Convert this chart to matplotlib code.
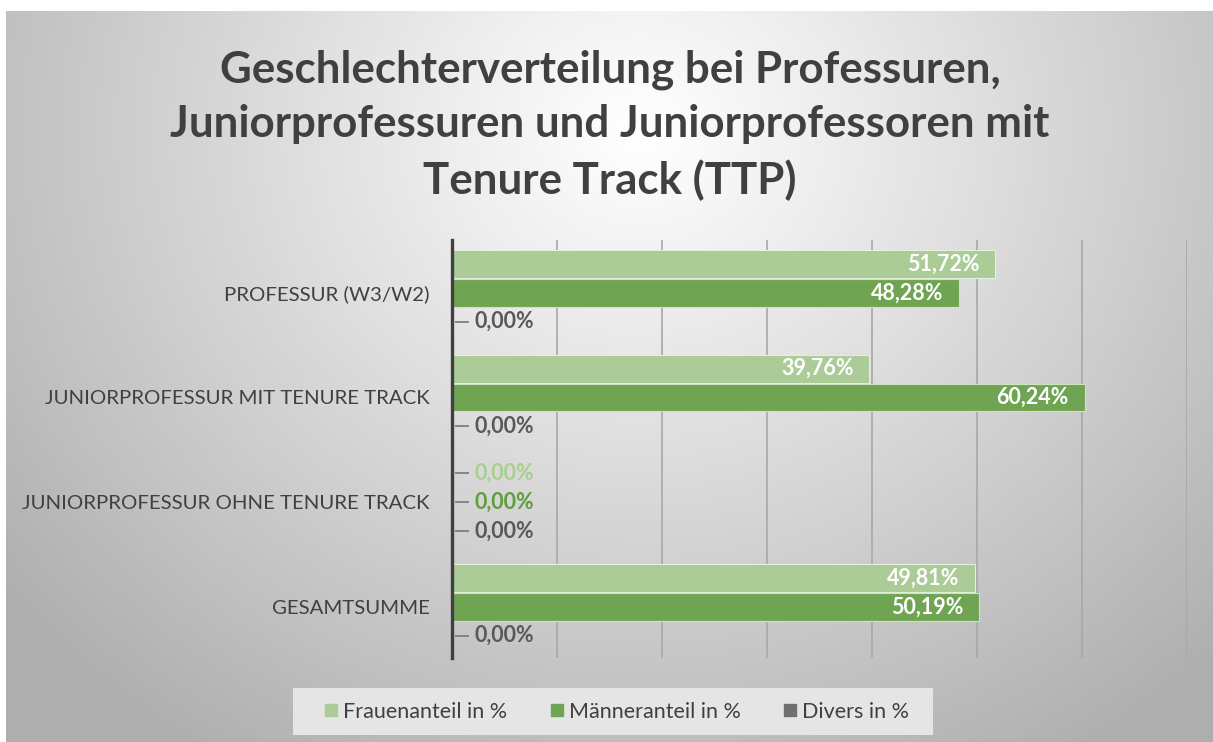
import numpy as np
import matplotlib
matplotlib.use("Agg")
import matplotlib.pyplot as plt
from matplotlib.patches import Rectangle
from matplotlib.lines import Line2D

# ---------------- data ----------------
categories = ["PROFESSUR (W3/W2)", "JUNIORPROFESSUR MIT TENURE TRACK",
              "JUNIORPROFESSUR OHNE TENURE TRACK", "GESAMTSUMME"]
frauen = [51.72, 39.76, 0.00, 49.81]
maenner = [48.28, 60.24, 0.00, 50.19]
divers = [0.00, 0.00, 0.00, 0.00]
series_names = ["Frauenanteil in %", "Männeranteil in %", "Divers in %"]
title = ("Geschlechterverteilung bei Professuren,\n"
         "Juniorprofessuren und Juniorprofessoren mit\n"
         "Tenure Track (TTP)")

# ---------------- style ----------------
W, H = 1213, 742
FONT = "Lato"
c_fr = "#abcb97"
c_ma = "#6fa452"
c_di = "#707070"
zero_colors = ["#a9cf8f", "#5f9e3d", "#595959"]
txt = "#404040"

plt.rcParams["font.family"] = [FONT, "DejaVu Sans"]

fig = plt.figure(figsize=(W / 100, H / 100), dpi=100, facecolor="white")

def fx(x):
    return x / W

def fy(y):
    return 1 - y / H

# background gradient panel
bg = fig.add_axes([fx(6), 0, 1 - fx(6), fy(11)])
bg.set_axis_off()
ny, nx = 400, 700
yy, xx = np.mgrid[0:ny, 0:nx]
px = 6 + xx / (nx - 1) * (W - 6)
py = 11 + yy / (ny - 1) * (H - 11)
d = np.sqrt(((px - 640) / 680) ** 2 + ((py - 130) / 620) ** 2)
val = 1.0 - 0.26 * np.clip(d, 0, 1.2) ** 1.05
img = np.dstack([val, val, val])
bg.imshow(img, aspect="auto", extent=[0, 1, 0, 1], origin="upper", zorder=0)
bg.set_xlim(0, 1)
bg.set_ylim(0, 1)

# main axes
left, right, top, bottom = 452, 1187, 240, 658
ax = fig.add_axes([fx(left), fy(bottom), fx(right - left), (bottom - top) / H])
ax.set_facecolor("none")

n = len(categories)
ypos = np.arange(n)
off = 0.275
bh = 0.265

ax.barh(ypos - off, frauen, height=bh, color=c_fr, edgecolor="#e4efdc", linewidth=0.8, zorder=3)
ax.barh(ypos, maenner, height=bh, color=c_ma, edgecolor="#cfe3c2", linewidth=0.8, zorder=3)
ax.barh(ypos + off, divers, height=bh, color=c_di, linewidth=0, zorder=3)

ax.set_xlim(0, 70)
ax.set_ylim(n - 1 + 0.49, -0.505)
ax.set_xticks(np.arange(0, 71, 10))
ax.xaxis.grid(True, color="#a8a8a8", linewidth=1.2, zorder=0)
ax.tick_params(axis="x", length=0, labelbottom=False)
ax.set_yticks(ypos)
ax.set_yticklabels(categories, fontsize=14.7, color=txt)
ax.tick_params(axis="y", length=0, pad=16)
for s in ["top", "right", "bottom"]:
    ax.spines[s].set_visible(False)
ax.spines["left"].set_color("#404040")
ax.spines["left"].set_linewidth(2.4)
ax.spines["left"].set_zorder(5)

def fmt(v):
    return f"{v:.2f}%".replace(".", ",")

for si, vals in enumerate([frauen, maenner, divers]):
    for i, v in enumerate(vals):
        y = ypos[i] + (si - 1) * off
        if v > 0:
            ax.text(v - 1.5, y, fmt(v), ha="right", va="center", color="white",
                    fontsize=15.5, fontweight="bold", zorder=6)
        else:
            ax.plot([0.25, 1.6], [y, y], color="#7f7f7f", linewidth=1.3, zorder=6,
                    solid_capstyle="butt")
            ax.text(2.1, y, fmt(v), ha="left", va="center", color=zero_colors[si],
                    fontsize=15.5, fontweight="bold", zorder=6)

# title
fig.text(fx(610), fy(125), title, ha="center", va="center", fontsize=31.6,
         fontweight="bold", color=txt, linespacing=1.43)

# legend box
lx0, lx1, ly0, ly1 = 293, 933, 688, 735
fig.patches.append(Rectangle((fx(lx0), fy(ly1)), fx(lx1 - lx0), (ly1 - ly0) / H,
                             transform=fig.transFigure, facecolor="#e5e5e5",
                             edgecolor="none", zorder=1))
handles = [Line2D([], [], marker="s", linestyle="none", markersize=8,
                  markerfacecolor=c, markeredgecolor=c) for c in [c_fr, c_ma, c_di]]
leg = fig.legend(handles, series_names, loc="center", bbox_to_anchor=(fx(617), fy(711.5)),
                 ncol=3, frameon=False, fontsize=15.5, handlelength=0.6,
                 handletextpad=0.25, columnspacing=2.0, labelcolor=txt)

fig.savefig("out.png", dpi=100, facecolor="white")
